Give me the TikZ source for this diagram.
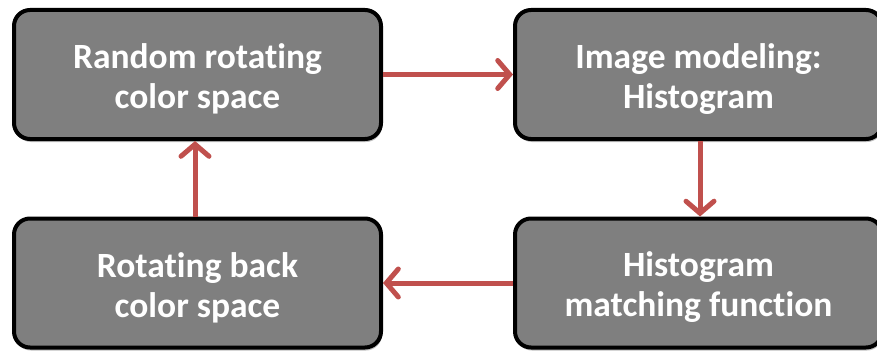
\documentclass[tikz,border=0pt]{standalone}
\usepackage{fontspec}
\setmainfont[Ligatures=NoCommon]{Carlito}
\usetikzlibrary{arrows.meta,shadows}
\definecolor{boxgray}{RGB}{127,127,127}
\definecolor{flowred}{RGB}{192,80,77}
% first line gets a tall strut so the two lines sit a little lower in the box
\newcommand\stagelines[2]{\rule{0pt}{34pt}#1\\#2}
\tikzset{
  stage/.style={draw=black, line width=4pt, fill=boxgray, rounded corners=16pt,
    minimum width=367pt, minimum height=129pt, inner sep=0pt,
    align=center, text=white, font=\fontsize{35.5}{40}\selectfont\bfseries,
    drop shadow={shadow xshift=1pt, shadow yshift=-3pt, opacity=0.25, fill=black}},
  flow/.style={draw=flowred, line width=5pt,
    -{Straight Barb[length=12pt,width=28pt,line cap=round]}}
}
\begin{document}
\begin{tikzpicture}[x=1pt,y=-1pt]
  \useasboundingbox (0,0) rectangle (877,353);
  \node[stage] (rand) at (197.5,74.5) {\stagelines{Random rotating}{color space}};
  \node[stage] (model) at (698.5,74.5) {\stagelines{Image modeling:}{Histogram}};
  \node[stage] (match) at (698.5,283) {\stagelines{Histogram}{matching function}};
  \node[stage] (back) at (197.5,283) {\stagelines{Rotating back}{color space}};
  \draw[flow] (rand.east) -- (model.west);
  \draw[flow] ([xshift=1.5pt]model.south) -- ([xshift=1.5pt]match.north);
  \draw[flow] (match.west) -- (back.east);
  \draw[flow] ([xshift=-2.5pt]back.north) -- ([xshift=-2.5pt]rand.south);
\end{tikzpicture}
\end{document}
